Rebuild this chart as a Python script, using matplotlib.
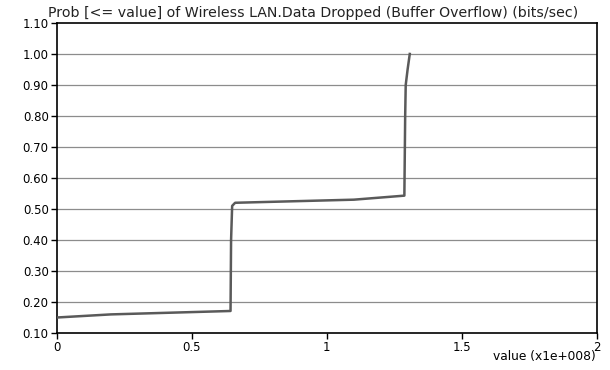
import matplotlib

matplotlib.use("Agg")
import matplotlib.pyplot as plt

# CDF of dropped data, value in units of 1e8 bits/sec
x_vals = [0.0, 0.2, 0.643, 0.645, 0.649, 0.66, 1.1, 1.287, 1.290, 1.292, 1.299, 1.307]
y_vals = [0.15, 0.16, 0.171, 0.40, 0.51, 0.52, 0.53, 0.543, 0.80, 0.90, 0.95, 1.00]

x_ticks = [0, 0.5, 1, 1.5, 2]
x_tick_labels = ["0", "0.5", "1", "1.5", "2"]
y_ticks = [0.1, 0.2, 0.3, 0.4, 0.5, 0.6, 0.7, 0.8, 0.9, 1.0, 1.1]

plt.rcParams["font.family"] = ["DejaVu Sans"]

fig = plt.figure(figsize=(6.1, 3.7), dpi=100)
ax = fig.add_axes([0.0934, 0.100, 0.885, 0.838])

for yt in y_ticks[1:-1]:
    ax.axhline(yt, color="#8c8c8c", lw=0.9, zorder=1)

ax.plot(x_vals, y_vals, color="#5a5a5a", lw=1.8, zorder=3)

ax.set_xlim(0, 2)
ax.set_ylim(0.1, 1.1)
ax.set_xticks(x_ticks)
ax.set_xticklabels(x_tick_labels)
ax.set_yticks(y_ticks)
ax.set_yticklabels([f"{v:.2f}" for v in y_ticks])
ax.tick_params(direction="out", length=4, width=1, labelsize=8.5, color="black", pad=2)
for s in ax.spines.values():
    s.set_color("black")
    s.set_linewidth(1.2)

fig.text(0.079, 0.953, "Prob [<= value] of Wireless LAN.Data Dropped (Buffer Overflow) (bits/sec)",
         fontsize=10.2, ha="left", va="baseline", color="#222222")
fig.text(0.976, 0.026, "value (x1e+008)", fontsize=8.8, ha="right", va="baseline")

fig.savefig("out.png", dpi=100)
